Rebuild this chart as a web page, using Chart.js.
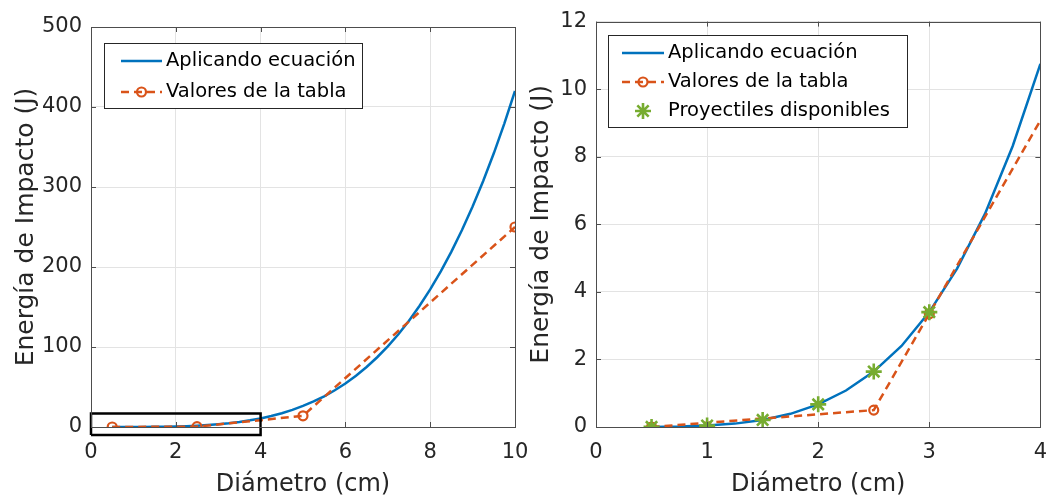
<!DOCTYPE html>
<html>
<head>
<meta charset="utf-8">
<script src="https://cdn.jsdelivr.net/npm/chart.js@4.4.0/dist/chart.umd.min.js"></script>
<style>
    body { margin: 0; background: #fff; width: 1047px; height: 499px; overflow: hidden; position: relative; }
    .panel { position: absolute; top: 0; height: 499px; }
    #panelIzq { left: 0; width: 530px; }
    #panelDer { left: 525px; width: 526px; }
</style>
</head>
<body>
<div class="panel" id="panelIzq"><canvas id="graficaCompleta"></canvas></div>
<div class="panel" id="panelDer"><canvas id="graficaZoom"></canvas></div>
<script>
// curva de la ecuacion (diametro en cm, energia en J)
var diametroCurva = [0.5, 0.75, 1, 1.25, 1.5, 1.75, 2, 2.25, 2.5, 2.75, 3, 3.25, 3.5, 3.75, 4,
    4.25, 4.5, 4.75, 5, 5.25, 5.5, 5.75, 6, 6.25, 6.5, 6.75, 7, 7.25, 7.5, 7.75, 8,
    8.25, 8.5, 8.75, 9, 9.25, 9.5, 9.75, 10];
var energiaCurva = [0.003, 0.013, 0.042, 0.10, 0.21, 0.39, 0.67, 1.08, 1.64, 2.40, 3.40, 4.69, 6.30, 8.31, 10.75,
    13.7, 17.2, 21.4, 26.3, 31.9, 38.4, 45.9, 54.4, 64.1, 75.0, 87.2, 100.8, 116.0, 132.9, 151.5, 172.0,
    194.6, 219.2, 246.2, 275.6, 307.5, 342.1, 379.6, 420];

// valores de la tabla
var diametroTabla = [0.5, 2.5, 5, 10];
var energiaTabla = [0, 0.5, 14, 250];
var diametroTablaZoom = [0.5, 2.5, 3, 5];
var energiaTablaZoom = [0, 0.5, 3.35, 14.8];

// proyectiles disponibles
var diametroProyectiles = [0.5, 1, 1.5, 2, 2.5, 3];
var energiaProyectiles = [0.003, 0.042, 0.21, 0.67, 1.64, 3.4];

// recuadro de la zona ampliada
var recuadroX = [0, 4, 4, 0, 0];
var recuadroY = [-10, -10, 17, 17, -10];

var ticksXIzq = [0, 2, 4, 6, 8, 10];
var ticksYIzq = [0, 100, 200, 300, 400, 500];
var ticksXDer = [0, 1, 2, 3, 4];
var ticksYDer = [0, 2, 4, 6, 8, 10, 12];

var AZUL = '#0072BD';
var NARANJA = '#D95319';
var VERDE = '#77AC30';
var TEXTO = '#262626';
var FUENTE = "'DejaVu Sans', sans-serif";

function puntos(xs, ys) {
    return xs.map(function (x, i) { return { x: x, y: ys[i] }; });
}

// caja de ejes con marcas hacia dentro, estilo MATLAB
var marcoEjes = {
    id: 'marcoEjes',
    afterDraw: function (chart) {
        var ctx = chart.ctx, a = chart.chartArea;
        var sx = chart.scales.x, sy = chart.scales.y;
        ctx.save();
        ctx.strokeStyle = '#4d4d4d';
        ctx.lineWidth = 1;
        ctx.beginPath();
        sx.ticks.forEach(function (t) {
            var px = Math.round(sx.getPixelForValue(t.value)) + 0.5;
            ctx.moveTo(px, a.bottom); ctx.lineTo(px, a.bottom - 5);
            ctx.moveTo(px, a.top); ctx.lineTo(px, a.top + 5);
        });
        sy.ticks.forEach(function (t) {
            var py = Math.round(sy.getPixelForValue(t.value)) + 0.5;
            ctx.moveTo(a.left, py); ctx.lineTo(a.left + 5, py);
            ctx.moveTo(a.right, py); ctx.lineTo(a.right - 5, py);
        });
        ctx.stroke();
        ctx.strokeRect(Math.round(a.left) + 0.5, Math.round(a.top) + 0.5,
            Math.round(a.right - a.left), Math.round(a.bottom - a.top));
        ctx.restore();
    }
};

// leyenda dentro del area de la grafica
var leyendaCaja = {
    id: 'leyendaCaja',
    afterDraw: function (chart, args, opts) {
        var ctx = chart.ctx;
        var items = chart.data.datasets.filter(function (d) { return d.label; });
        ctx.save();
        ctx.fillStyle = '#fff';
        ctx.fillRect(opts.x, opts.y, opts.w, opts.h);
        ctx.strokeStyle = '#262626';
        ctx.lineWidth = 1;
        ctx.strokeRect(opts.x + 0.5, opts.y + 0.5, opts.w, opts.h);
        items.forEach(function (d, i) {
            var cy = opts.y + opts.primeraFila + i * opts.separacion;
            var x0 = opts.x + opts.muestraX, x1 = x0 + opts.muestraAncho, cx = (x0 + x1) / 2;
            if (d.showLine) {
                ctx.strokeStyle = d.borderColor;
                ctx.lineWidth = d.borderWidth;
                ctx.setLineDash(d.borderDash || []);
                ctx.beginPath();
                ctx.moveTo(x0, cy); ctx.lineTo(x1, cy);
                ctx.stroke();
                ctx.setLineDash([]);
            }
            if (d.pointRadius > 0) {
                ctx.strokeStyle = d.pointBorderColor;
                ctx.fillStyle = 'rgba(0,0,0,0)';
                ctx.lineWidth = d.pointBorderWidth;
                Chart.helpers.drawPoint(ctx, {
                    pointStyle: d.pointStyle, radius: d.pointRadius,
                    borderWidth: d.pointBorderWidth, rotation: 0
                }, cx, cy);
            }
            ctx.fillStyle = '#000';
            ctx.font = '19.5px ' + FUENTE;
            ctx.textBaseline = 'middle';
            ctx.fillText(d.label, opts.x + opts.textoX, cy);
        });
        ctx.restore();
    }
};

function ejes(xMax, yMax, ticksX, ticksY, anchoY, margenTitulo) {
    return {
        x: {
            type: 'linear', min: 0, max: xMax,
            afterBuildTicks: function (s) { s.ticks = ticksX.map(function (v) { return { value: v }; }); },
            afterFit: function (s) { s.height = 72; s.paddingLeft = 0; s.paddingRight = 0; },
            grid: { color: '#e3e3e3', drawTicks: false },
            border: { display: false },
            ticks: { color: TEXTO, padding: 13, maxRotation: 0, font: { family: FUENTE, size: 21 } },
            title: { display: true, text: 'Diámetro (cm)', color: TEXTO, padding: { top: 0, bottom: 0 },
                font: { family: FUENTE, size: 24 } }
        },
        y: {
            type: 'linear', min: 0, max: yMax,
            afterBuildTicks: function (s) { s.ticks = ticksY.map(function (v) { return { value: v }; }); },
            afterFit: function (s) { s.width = anchoY; },
            grid: { color: '#e3e3e3', drawTicks: false },
            border: { display: false },
            ticks: { color: TEXTO, padding: 9, font: { family: FUENTE, size: 21 } },
            title: { display: true, text: 'Energía de Impacto (J)', color: TEXTO,
                padding: { top: margenTitulo, bottom: 0 }, font: { family: FUENTE, size: 25 } }
        }
    };
}

function serieCurva() {
    return {
        label: 'Aplicando ecuación',
        data: puntos(diametroCurva, energiaCurva),
        showLine: true, borderColor: AZUL, borderWidth: 2.5,
        pointRadius: 0, order: 4
    };
}

function serieTabla(xs, ys) {
    return {
        label: 'Valores de la tabla',
        data: puntos(xs, ys),
        showLine: true, borderColor: NARANJA, borderWidth: 2.5, borderDash: [8, 5],
        pointStyle: 'circle', pointRadius: 4.5, pointBorderWidth: 2.2,
        pointBorderColor: NARANJA, pointBackgroundColor: 'rgba(0,0,0,0)', order: 3
    };
}

new Chart(document.getElementById('graficaCompleta'), {
    type: 'scatter',
    data: {
        datasets: [
            serieCurva(),
            serieTabla(diametroTabla, energiaTabla),
            {
                data: puntos(recuadroX, recuadroY),
                showLine: true, borderColor: '#000', borderWidth: 2.5,
                pointRadius: 0, clip: false, order: 1
            }
        ]
    },
    options: {
        responsive: true, maintainAspectRatio: false, animation: false,
        layout: { padding: { top: 27, right: 15, left: 0, bottom: 0 } },
        scales: ejes(10, 500, ticksXIzq, ticksYIzq, 91, 11),
        plugins: {
            legend: { display: false }, tooltip: { enabled: false },
            leyendaCaja: { x: 104, y: 43, w: 258, h: 65, primeraFila: 18, separacion: 31,
                muestraX: 17, muestraAncho: 41, textoX: 62 }
        }
    },
    plugins: [marcoEjes, leyendaCaja]
});

new Chart(document.getElementById('graficaZoom'), {
    type: 'scatter',
    data: {
        datasets: [
            serieCurva(),
            serieTabla(diametroTablaZoom, energiaTablaZoom),
            {
                label: 'Proyectiles disponibles',
                data: puntos(diametroProyectiles, energiaProyectiles),
                showLine: false, pointStyle: 'star', pointRadius: 8, pointBorderWidth: 2.6,
                pointBorderColor: VERDE, pointBackgroundColor: VERDE, order: 2
            }
        ]
    },
    options: {
        responsive: true, maintainAspectRatio: false, animation: false,
        layout: { padding: { top: 21, right: 3, left: 0, bottom: 0 } },
        scales: ejes(4, 12, ticksXDer, ticksYDer, 71, 1),
        plugins: {
            legend: { display: false }, tooltip: { enabled: false },
            leyendaCaja: { x: 83, y: 35, w: 299, h: 92, primeraFila: 18, separacion: 29,
                muestraX: 14, muestraAncho: 42, textoX: 60 }
        }
    },
    plugins: [marcoEjes, leyendaCaja]
});
</script>
</body>
</html>
